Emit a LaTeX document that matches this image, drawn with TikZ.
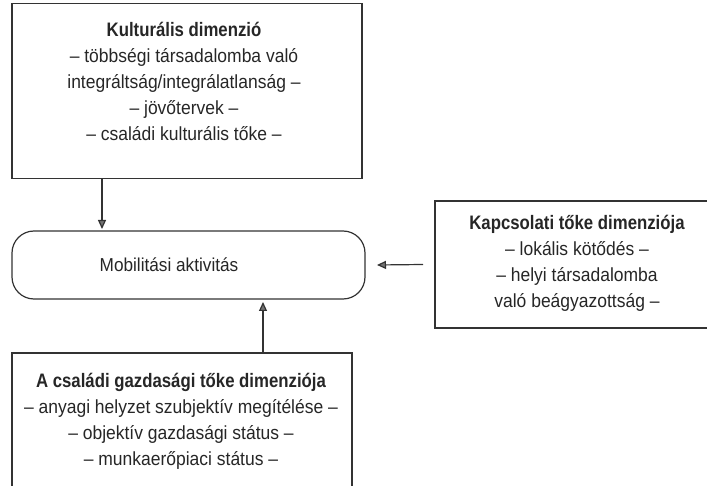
\documentclass[tikz,border=0pt]{standalone}
\usepackage{fontspec}
\setmainfont{Liberation Sans}[FakeStretch=0.92, BoldFeatures={FakeStretch=0.86}]
\usetikzlibrary{arrows.meta}
\tikzset{
  frame/.style={draw=black!80, line width=1.2pt},
  boxnode/.style={inner sep=0pt, outer sep=0pt},
  txt/.style={align=center, inner sep=0pt, font=\fontsize{19}{26}\selectfont, text=black!85},
  arr/.style={draw=black!80, line width=1.2pt, -{Triangle[length=9pt,width=8pt,fill=black!55]}}
}
\newcommand{\ttlfont}{\bfseries\fontsize{19.5}{26}\selectfont}
\begin{document}
\begin{tikzpicture}[x=1pt,y=-1pt]
\useasboundingbox (0,0) rectangle (707,486);
% top box
\node[boxnode, frame, minimum width=350pt, minimum height=175pt] (kult) at (187,91) {};
\node[txt] (kulttxt) at (184,81) {{\ttlfont Kulturális dimenzió}\\
– többségi társadalomba való\\
integráltság/integrálatlanság –\\
– jövőtervek –\\
– családi kulturális tőke –};
% rounded box
\node[boxnode, frame, rounded corners=22pt, minimum width=353pt, minimum height=68pt] (mob) at (188.5,265) {};
\node[txt, font=\fontsize{18.7}{25}\selectfont] (mobtxt) at (169,265) {Mobilitási aktivitás};
% right box (open on the right)
\node[boxnode, minimum width=272pt, minimum height=127pt] (kapcs) at (571,264.5) {};
\draw[frame] (kapcs.north east) -- (kapcs.north west) -- (kapcs.south west) -- (kapcs.south east);
\node[txt] (kapcstxt) at (577,263.5) {{\ttlfont Kapcsolati tőke dimenziója}\\
– lokális kötődés –\\
– helyi társadalomba\\
való beágyazottság –};
% bottom box (open at the bottom)
\node[boxnode, minimum width=340pt, minimum height=140pt] (csal) at (182,423) {};
\draw[frame] (csal.south west) -- (csal.north west) -- (csal.north east) -- (csal.south east);
\node[txt] (csaltxt) at (181,421) {{\ttlfont A családi gazdasági tőke dimenziója}\\
– anyagi helyzet szubjektív megítélése –\\
– objektív gazdasági státus –\\
– munkaerőpiaci státus –};
% connectors
\coordinate (a1) at (102,0);
\coordinate (a2) at (263,0);
\draw[arr] (kult.south -| a1) -- ([yshift=2pt]mob.north -| a1);
\draw[arr] ([xshift=-12pt]kapcs.west) -- ([xshift=12pt]mob.east);
\draw[arr] (csal.north -| a2) -- ([yshift=-3pt]mob.south -| a2);
\end{tikzpicture}
\end{document}
